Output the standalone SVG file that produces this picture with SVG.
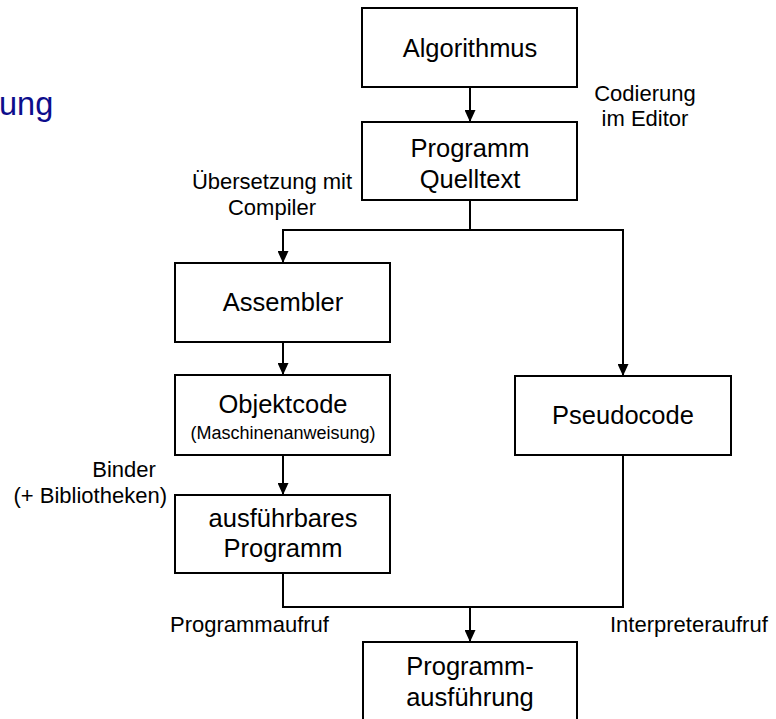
<svg xmlns="http://www.w3.org/2000/svg" width="776" height="719" viewBox="0 0 776 719">
<defs>
<style>
.box{fill:#fff;stroke:#000;stroke-width:2}
.bt{font-family:"Liberation Sans",Arial,sans-serif;font-size:25.5px;fill:#000;text-anchor:middle}
.st{font-family:"Liberation Sans",Arial,sans-serif;font-size:18px;fill:#000;text-anchor:middle}
.lb{font-family:"Liberation Sans",Arial,sans-serif;font-size:22px;fill:#000}
.cn{fill:none;stroke:#000;stroke-width:2}
</style>
<marker id="ah" markerUnits="userSpaceOnUse" markerWidth="12" markerHeight="11" refX="12" refY="5.5" orient="auto">
<path d="M0,0 L12,5.5 L0,11 z" fill="#000"/>
</marker>
</defs>
<rect width="776" height="719" fill="#fff"/>
<text x="-1" y="115" font-family="Liberation Sans,Arial,sans-serif" font-size="32.5" fill="#0d0d8c">ung</text>

<g id="connectors">
<path class="cn" d="M470,87 V122" marker-end="url(#ah)"/>
<path class="cn" d="M470,200 V230 H283 V263" marker-end="url(#ah)"/>
<path class="cn" d="M470,230 H623 V376" marker-end="url(#ah)"/>
<path class="cn" d="M283,342 V375" marker-end="url(#ah)"/>
<path class="cn" d="M283,455 V495" marker-end="url(#ah)"/>
<path class="cn" d="M283,573 V607 H623 V455"/>
<path class="cn" d="M470,607 V642" marker-end="url(#ah)"/>
</g>

<g id="algorithmus">
<rect class="box" x="362" y="8" width="215" height="79"/>
<text class="bt" x="470" y="57">Algorithmus</text>
</g>
<g id="programm-quelltext">
<rect class="box" x="362" y="122" width="215" height="78"/>
<text class="bt" x="470" y="157">Programm</text>
<text class="bt" x="470" y="188">Quelltext</text>
</g>
<g id="assembler">
<rect class="box" x="175" y="263" width="215" height="79"/>
<text class="bt" x="283" y="311">Assembler</text>
</g>
<g id="objektcode">
<rect class="box" x="175" y="375" width="215" height="80"/>
<text class="bt" x="283" y="413">Objektcode</text>
<text class="st" x="283" y="439">(Maschinenanweisung)</text>
</g>
<g id="ausfuehrbares-programm">
<rect class="box" x="175" y="495" width="215" height="78"/>
<text class="bt" x="283" y="527">ausführbares</text>
<text class="bt" x="283" y="557">Programm</text>
</g>
<g id="pseudocode">
<rect class="box" x="515" y="376" width="216" height="79"/>
<text class="bt" x="623" y="424">Pseudocode</text>
</g>
<g id="programmausfuehrung">
<path class="box" d="M363,730 V642 H577 V730"/>
<text class="bt" x="470" y="675">Programm-</text>
<text class="bt" x="470" y="706">ausführung</text>
</g>

<g id="labels">
<text class="lb" x="645" y="101" text-anchor="middle">Codierung</text>
<text class="lb" x="645" y="126" text-anchor="middle">im Editor</text>
<text class="lb" x="272" y="189" text-anchor="middle">Übersetzung mit</text>
<text class="lb" x="272" y="215" text-anchor="middle">Compiler</text>
<text class="lb" x="124" y="477" text-anchor="middle">Binder</text>
<text class="lb" x="167" y="503" text-anchor="end">(+ Bibliotheken)</text>
<text class="lb" x="170" y="632">Programmaufruf</text>
<text class="lb" x="610" y="632">Interpreteraufruf</text>
</g>
</svg>
